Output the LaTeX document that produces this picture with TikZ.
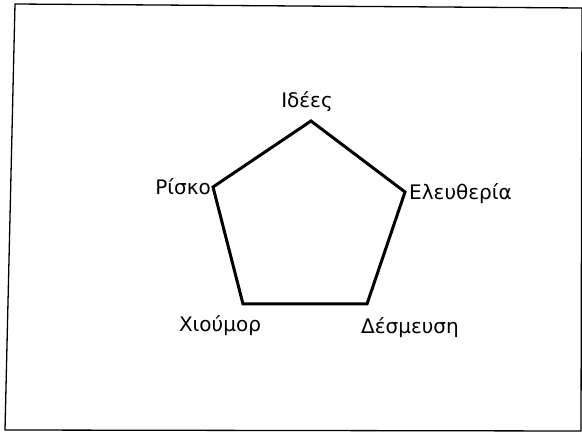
\documentclass[tikz,border=0pt]{standalone}
\usepackage{fontspec}
\setmainfont{DejaVu Sans}
\usepackage{tikz}

\begin{document}
\begin{tikzpicture}[x=1pt, y=-1pt, lbl/.style={inner sep=0pt, font=\fontsize{20}{24}\selectfont}]
	\useasboundingbox (0, 0) rectangle (582, 433);
	\draw [line width=1.3pt] (15, 4) -- (582, 8) -- (581, 431) -- (5, 430) -- cycle;
	\coordinate (ides) at (311, 121);
	\coordinate (elef) at (405, 192);
	\coordinate (desm) at (367, 304);
	\coordinate (xiou) at (243, 304);
	\coordinate (risk) at (213, 187);
	\draw [line width=3pt, line join=miter] (ides) -- (elef) -- (desm) -- (xiou) -- (risk) -- cycle;
	\node [lbl, anchor=base] (t1) at (307, 108) {Ιδέες};
	\node [lbl, anchor=base east] (t2) at (211, 195) {Ρίσκο};
	\node [lbl, anchor=base west] (t3) at (409, 200) {Ελευθερία};
	\node [lbl, anchor=base] (t4) at (220, 331) {Χιούμορ};
	\node [lbl, anchor=base] (t5) at (410, 334) {Δέσμευση};
\end{tikzpicture}
\end{document}
